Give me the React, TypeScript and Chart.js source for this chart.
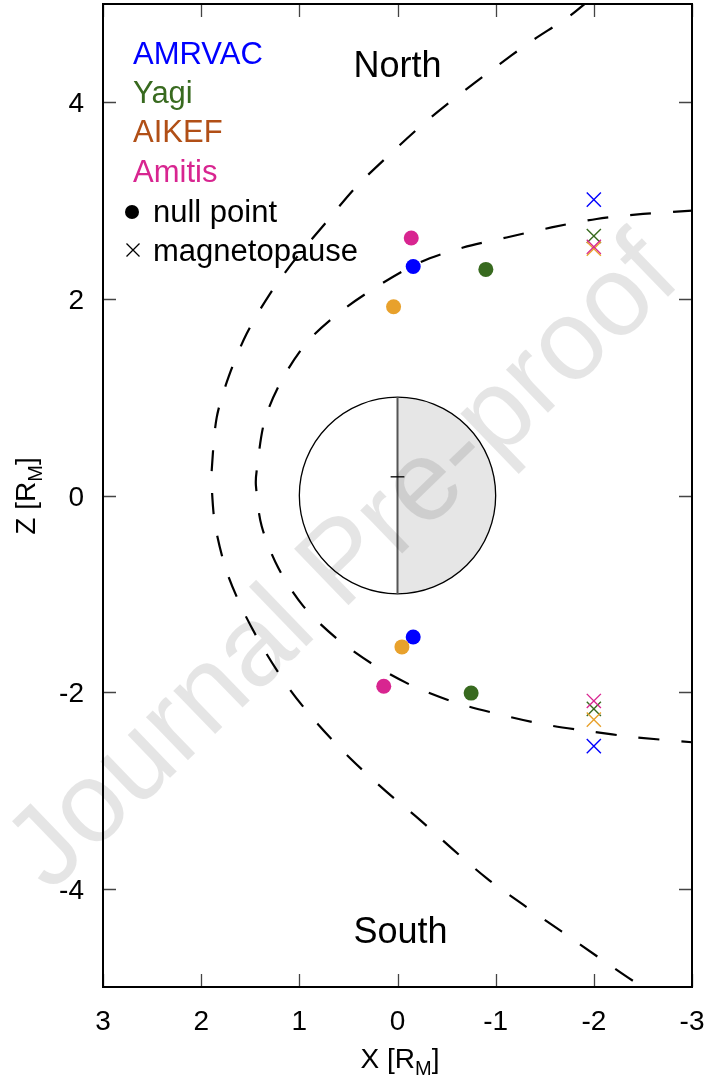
import { useEffect, useRef } from 'react';
import { Chart, registerables } from 'chart.js';

Chart.register(...registerables);

const FONT = '"Liberation Sans", Arial, Helvetica, sans-serif';

const xTicks = [3, 2, 1, 0, -1, -2, -3];
const yTicks = [4, 2, 0, -2, -4];

const models = ['AMRVAC', 'Yagi', 'AIKEF', 'Amitis'];
const markerColors = ['#0000ff', '#386a1f', '#e8a12c', '#d82590'];
const legendColors = ['#0000ff', '#386a1f', '#b14f16', '#d82590'];

// null points (filled circles)
const nullNorthX = [-0.16, -0.9, 0.04, -0.14];
const nullNorthZ = [2.33, 2.3, 1.92, 2.62];
const nullSouthX = [-0.16, -0.75, -0.045, 0.14];
const nullSouthZ = [-1.44, -2.01, -1.54, -1.94];

// magnetopause crossings (x marks)
const mpX = [-2, -2, -2, -2];
const mpNorthZ = [3.01, 2.64, 2.51, 2.53];
const mpSouthZ = [-2.55, -2.17, -2.28, -2.09];

// outer dashed curve (bow shock)
const outerX = [-1.93, -1.738, -1.348, -0.975, -0.618, -0.262, 0.111, 0.427, 0.739, 1.027, 1.299, 1.537, 1.717, 1.842, 1.893, 1.893, 1.859, 1.747, 1.571, 1.35, 1.096, 0.808, 0.485, 0.128, -0.228, -0.564, -0.907, -1.28, -1.671, -2.061, -2.435, -2.57];
const outerZ = [5.02, 4.866, 4.611, 4.34, 4.068, 3.78, 3.44, 3.134, 2.765, 2.422, 2.052, 1.645, 1.217, 0.792, 0.249, 0.097, -0.293, -0.752, -1.176, -1.584, -1.974, -2.33, -2.67, -3.0, -3.3, -3.6, -3.892, -4.163, -4.435, -4.707, -4.961, -5.03];

// inner dashed curve (magnetopause)
const innerX = [-3.02, -2.502, -2.028, -1.569, -1.111, -0.669, -0.228, 0.179, 0.569, 0.909, 1.164, 1.35, 1.435, 1.442, 1.384, 1.215, 0.96, 0.627, 0.247, -0.16, -0.602, -1.043, -1.501, -1.959, -2.418, -3.02];
const innerZ = [2.9, 2.864, 2.813, 2.727, 2.625, 2.523, 2.371, 2.144, 1.879, 1.573, 1.2, 0.776, 0.249, 0.097, -0.311, -0.735, -1.125, -1.448, -1.719, -1.94, -2.11, -2.228, -2.33, -2.398, -2.459, -2.512];

// planet & annotations
const planetRadius = [1];
const dipoleOffset = [0.19];
const regionLabels = ['North', 'South'];
const regionLabelZ = [4.26, -4.55];

const toPts = (xs: number[], ys: number[]) => xs.map((v, i) => ({ x: v, y: ys[i] }));

// target plot frame in page pixels
const FRAME = { left: 103, right: 692, top: 4, bottom: 987 };

const decor = {
  id: 'decor',
  beforeDatasetsDraw(chart: any) {
    const { ctx, scales } = chart;
    const x = scales.x;
    const y = scales.y;
    const cx = x.getPixelForValue(0);
    const cy = y.getPixelForValue(0);
    const rx = Math.abs(x.getPixelForValue(planetRadius[0]) - cx);
    const ry = Math.abs(y.getPixelForValue(planetRadius[0]) - cy);
    ctx.save();
    ctx.beginPath();
    ctx.ellipse(cx, cy, rx, ry, 0, Math.PI / 2, (3 * Math.PI) / 2);
    ctx.closePath();
    ctx.fillStyle = '#ffffff';
    ctx.fill();
    ctx.beginPath();
    ctx.ellipse(cx, cy, rx, ry, 0, -Math.PI / 2, Math.PI / 2);
    ctx.closePath();
    ctx.fillStyle = '#e6e6e6';
    ctx.fill();
    ctx.beginPath();
    ctx.ellipse(cx, cy, rx, ry, 0, 0, Math.PI * 2);
    ctx.strokeStyle = '#000';
    ctx.lineWidth = 1.3;
    ctx.stroke();
    ctx.beginPath();
    ctx.moveTo(cx, cy - ry);
    ctx.lineTo(cx, cy + ry);
    ctx.strokeStyle = '#555';
    ctx.lineWidth = 2;
    ctx.stroke();
    const dy = y.getPixelForValue(dipoleOffset[0]);
    ctx.beginPath();
    ctx.moveTo(x.getPixelForValue(0.07), dy);
    ctx.lineTo(x.getPixelForValue(-0.07), dy);
    ctx.strokeStyle = '#000';
    ctx.lineWidth = 1.3;
    ctx.stroke();
    ctx.restore();
  },
  afterDraw(chart: any) {
    const { ctx, chartArea, scales } = chart;
    const x = scales.x;
    const y = scales.y;
    const { left, right, top, bottom } = chartArea;
    ctx.save();
    ctx.strokeStyle = '#444';
    ctx.lineWidth = 1.3;
    const tl = 13;
    xTicks.forEach((v) => {
      const px = Math.round(x.getPixelForValue(v)) + 0.5;
      ctx.beginPath();
      ctx.moveTo(px, bottom);
      ctx.lineTo(px, bottom - tl);
      ctx.moveTo(px, top);
      ctx.lineTo(px, top + tl);
      ctx.stroke();
    });
    yTicks.forEach((v) => {
      const py = Math.round(y.getPixelForValue(v)) + 0.5;
      ctx.beginPath();
      ctx.moveTo(left, py);
      ctx.lineTo(left + tl, py);
      ctx.moveTo(right, py);
      ctx.lineTo(right - tl, py);
      ctx.stroke();
    });
    ctx.strokeStyle = '#000';
    ctx.lineWidth = 2;
    ctx.strokeRect(left, top, right - left, bottom - top);

    // tick labels
    ctx.fillStyle = '#000';
    ctx.font = `28px ${FONT}`;
    ctx.textBaseline = 'alphabetic';
    ctx.textAlign = 'center';
    xTicks.forEach((v) => {
      ctx.fillText(String(v), x.getPixelForValue(v), bottom + 43);
    });
    ctx.textAlign = 'right';
    yTicks.forEach((v) => {
      ctx.fillText(String(v), left - 19, y.getPixelForValue(v) + 10);
    });

    // North / South labels
    ctx.font = `36px ${FONT}`;
    ctx.textAlign = 'center';
    regionLabels.forEach((t, i) => {
      ctx.fillText(t, x.getPixelForValue(0) + (i === 1 ? 3 : 0), y.getPixelForValue(regionLabelZ[i]));
    });

    // legend
    ctx.textAlign = 'left';
    ctx.font = `31px ${FONT}`;
    const lx = 133;
    const baselines = [64, 103, 142, 182, 221.5, 260.5];
    models.forEach((m, i) => {
      ctx.fillStyle = legendColors[i];
      ctx.fillText(m, lx, baselines[i]);
    });
    ctx.fillStyle = '#000';
    ctx.fillText('null point', 153, baselines[4]);
    ctx.fillText('magnetopause', 153, baselines[5]);
    ctx.beginPath();
    ctx.arc(132, 212, 7, 0, Math.PI * 2);
    ctx.fill();
    ctx.beginPath();
    ctx.moveTo(126.5, 243.5);
    ctx.lineTo(139.5, 256.5);
    ctx.moveTo(139.5, 243.5);
    ctx.lineTo(126.5, 256.5);
    ctx.strokeStyle = '#000';
    ctx.lineWidth = 1.3;
    ctx.stroke();

    // axis titles with subscript
    const drawTitle = (pre: string, sub: string, post: string, cxp: number, base: number) => {
      ctx.font = `28px ${FONT}`;
      const w1 = ctx.measureText(pre).width;
      const w3 = ctx.measureText(post).width;
      ctx.font = `20px ${FONT}`;
      const w2 = ctx.measureText(sub).width;
      const start = cxp - (w1 + w2 + w3) / 2;
      ctx.textAlign = 'left';
      ctx.font = `28px ${FONT}`;
      ctx.fillText(pre, start, base);
      ctx.fillText(post, start + w1 + w2, base);
      ctx.font = `20px ${FONT}`;
      ctx.fillText(sub, start + w1, base + 7);
    };
    ctx.fillStyle = '#000';
    drawTitle('X [R', 'M', ']', 400, 1068);
    ctx.save();
    ctx.translate(35, 496);
    ctx.rotate(-Math.PI / 2);
    drawTitle('Z [R', 'M', ']', 0, 0);
    ctx.restore();

    // watermark
    ctx.save();
    ctx.translate(345, 565);
    ctx.rotate((-44 * Math.PI) / 180);
    ctx.font = `114px ${FONT}`;
    ctx.fillStyle = 'rgba(0,0,0,0.1)';
    ctx.textAlign = 'center';
    ctx.textBaseline = 'middle';
    ctx.fillText('Journal Pre-proof', 0, 0);
    ctx.restore();

    ctx.restore();
  },
};

export default function App() {
  const ref = useRef<HTMLCanvasElement | null>(null);
  useEffect(() => {
    if (!ref.current) return;
    const curve = (xs: number[], zs: number[]) => ({
      type: 'scatter' as const,
      data: toPts(xs, zs),
      showLine: true,
      borderColor: '#000',
      borderWidth: 2.2,
      borderDash: [21, 22],
      pointRadius: 0,
      tension: 0.3,
      fill: false,
      clip: 0,
      order: 20,
    });
    const datasets: any[] = [curve(outerX, outerZ), curve(innerX, innerZ)];
    models.forEach((m, i) => {
      datasets.push({
        type: 'scatter',
        label: m + ' null point',
        data: [
          { x: nullNorthX[i], y: nullNorthZ[i] },
          { x: nullSouthX[i], y: nullSouthZ[i] },
        ],
        pointStyle: 'circle',
        pointRadius: 7.5,
        backgroundColor: markerColors[i],
        borderWidth: 0,
        order: 10 - i,
      });
      datasets.push({
        type: 'scatter',
        label: m + ' magnetopause',
        data: [
          { x: mpX[i], y: mpNorthZ[i] },
          { x: mpX[i], y: mpSouthZ[i] },
        ],
        pointStyle: 'crossRot',
        pointRadius: 10,
        borderColor: markerColors[i],
        borderWidth: 1.4,
        order: 5 - i,
      });
    });
    // set the plot frame exactly after layout
    const framePlugin = {
      id: 'frameFix',
      afterLayout(chart: any) {
        const ca = chart.chartArea;
        ca.left = FRAME.left;
        ca.right = FRAME.right;
        ca.top = FRAME.top;
        ca.bottom = FRAME.bottom;
        ca.width = FRAME.right - FRAME.left;
        ca.height = FRAME.bottom - FRAME.top;
        const xs = chart.scales.x;
        const ys = chart.scales.y;
        xs.left = FRAME.left;
        xs.right = FRAME.right;
        xs.width = FRAME.right - FRAME.left;
        ys.top = FRAME.top;
        ys.bottom = FRAME.bottom;
        ys.height = FRAME.bottom - FRAME.top;
        xs.configure();
        ys.configure();
      },
    };
    const chart = new Chart(ref.current, {
      type: 'scatter',
      data: { datasets },
      plugins: [framePlugin, decor],
      options: {
        animation: false,
        responsive: false,
        devicePixelRatio: 1,
        layout: { padding: { left: 0, right: 16, top: 4, bottom: 0 } },
        plugins: { legend: { display: false }, tooltip: { enabled: false } },
        scales: {
          x: {
            type: 'linear',
            min: -3,
            max: 3,
            reverse: true,
            grid: { display: false, drawTicks: false },
            border: { display: false },
            afterBuildTicks: (s: any) => {
              s.ticks = xTicks.map((v) => ({ value: v }));
            },
            afterFit: (s: any) => {
              s.height = 101;
            },
            ticks: { display: false },
          },
          y: {
            type: 'linear',
            min: -5,
            max: 5,
            grid: { display: false, drawTicks: false },
            border: { display: false },
            afterBuildTicks: (s: any) => {
              s.ticks = yTicks.map((v) => ({ value: v }));
            },
            afterFit: (s: any) => {
              s.width = 103;
            },
            ticks: { display: false },
          },
        },
      },
    } as any);
    return () => chart.destroy();
  }, []);
  return (
    <div style={{ position: 'absolute', left: 0, top: 0, width: 708, height: 1088, background: '#fff' }}>
      <canvas ref={ref} width={708} height={1088} style={{ width: 708, height: 1088, display: 'block' }} />
    </div>
  );
}
